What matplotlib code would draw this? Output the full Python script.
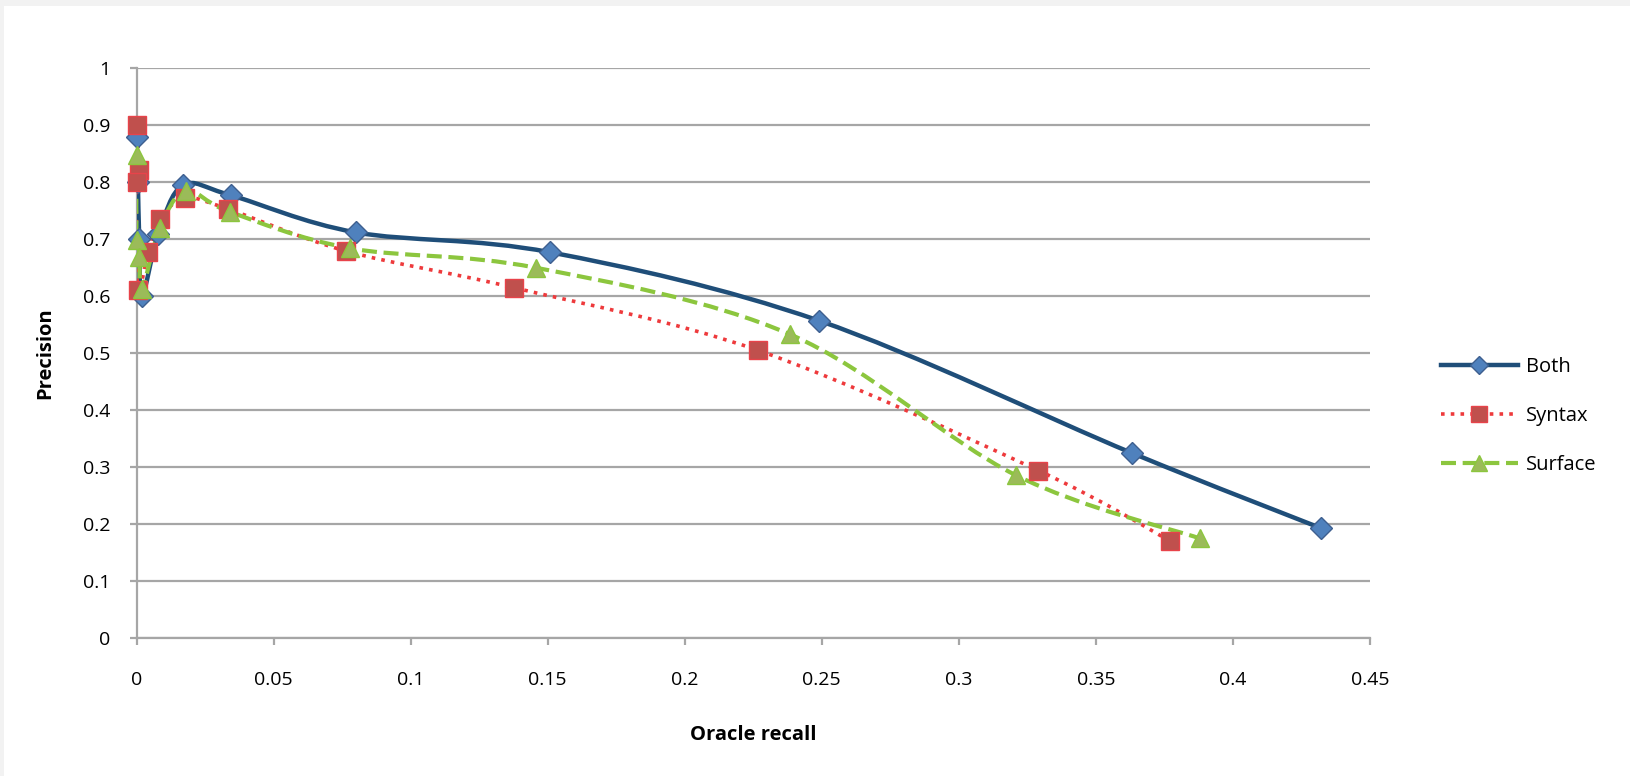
import numpy as np
import matplotlib.pyplot as plt
from matplotlib.path import Path
from matplotlib.patches import PathPatch, Rectangle
from matplotlib.lines import Line2D

plt.rcParams['font.family'] = ['Open Sans', 'DejaVu Sans']

# data (recall, precision)
both_x = [0.0, 0.0005, 0.001, 0.002, 0.008, 0.017, 0.0345, 0.080, 0.151, 0.249, 0.363, 0.432]
both_y = [0.88, 0.80, 0.70, 0.60, 0.71, 0.795, 0.777, 0.712, 0.677, 0.557, 0.325, 0.193]
syn_x = [0.0, 0.001, 0.0, 0.0005, 0.0042, 0.0086, 0.0177, 0.0334, 0.0766, 0.1376, 0.2267, 0.329, 0.3772]
syn_y = [0.90, 0.822, 0.80, 0.61, 0.678, 0.735, 0.772, 0.753, 0.679, 0.615, 0.505, 0.294, 0.170]
sur_x = [0.0, 0.0, 0.001, 0.002, 0.0086, 0.018, 0.034, 0.078, 0.1456, 0.2384, 0.3207, 0.3878]
sur_y = [0.847, 0.698, 0.668, 0.613, 0.72, 0.785, 0.748, 0.684, 0.650, 0.533, 0.286, 0.175]

xticks = [0, 0.05, 0.1, 0.15, 0.2, 0.25, 0.3, 0.35, 0.4, 0.45]
xticklabels = ['0', '0.05', '0.1', '0.15', '0.2', '0.25', '0.3', '0.35', '0.4', '0.45']
yticks = [0, 0.1, 0.2, 0.3, 0.4, 0.5, 0.6, 0.7, 0.8, 0.9, 1.0]
yticklabels = ['0', '0.1', '0.2', '0.3', '0.4', '0.5', '0.6', '0.7', '0.8', '0.9', '1']

#*********************************************************************************************
def smooth_path(x, y):
    # catmull-rom style bezier through the points (like excel "smoothed line")
    p = np.column_stack([x, y]).astype(float)
    n = len(p)
    verts = [p[0]]
    codes = [Path.MOVETO]
    for i in range(n - 1):
        p0 = p[i - 1] if i > 0 else p[i]
        p3 = p[i + 2] if i + 2 < n else p[i + 1]
        c1 = p[i] + (p[i + 1] - p0) / 6.0
        c2 = p[i + 1] - (p3 - p[i]) / 6.0
        verts += [c1, c2, p[i + 1]]
        codes += [Path.CURVE4] * 3
    return Path(verts, codes)

#*********************************************************************************************
fig = plt.figure(figsize=(16.3, 7.76), dpi=100, facecolor='#f2f2f2')
fig.patches.append(Rectangle((4 / 1630, 0), 1, 1 - 6 / 776, transform=fig.transFigure,
                             facecolor='white', edgecolor='none', zorder=-10))
ax = fig.add_axes([136.5 / 1630, 1 - 638 / 776, (1370 - 136.5) / 1630, (638 - 68.3) / 776])
ax.set_facecolor('white')

series = [
    (both_x, both_y, 'Both', '#1f4e79', '-', 'D', '#4f81bd', '#3e5f8f', 3.2, 11),
    (syn_x, syn_y, 'Syntax', '#ee3a3c', (0, (1, 1.7)), 's', '#c0504d', '#e8434a', 2.6, 13),
    (sur_x, sur_y, 'Surface', '#8cc63e', (0, (3.6, 1.6)), '^', '#9bbb59', '#8cc63e', 3.0, 13),
]
handles = []
for x, y, name, lc, ls, mk, mf, me, lw, ms in series:
    patch = PathPatch(smooth_path(x, y), facecolor='none', edgecolor=lc, linewidth=lw,
                      linestyle=ls, zorder=3, capstyle='butt')
    ax.add_patch(patch)
    ax.plot(x, y, linestyle='none', marker=mk, markersize=ms, markerfacecolor=mf,
            markeredgecolor=me, markeredgewidth=1.0, zorder=4, clip_on=False)
    handles.append(Line2D([], [], color=lc, linewidth=lw, linestyle=ls, marker=mk, markersize=ms * 0.85,
                          markerfacecolor=mf, markeredgecolor=me, label=name))

ax.set_xlim(0, 0.45)
ax.set_ylim(0, 1)
ax.set_xticks(xticks)
ax.set_xticklabels(xticklabels)
ax.set_yticks(yticks)
ax.set_yticklabels(yticklabels)
ax.grid(axis='y', color='#a6a6a6', linewidth=1.6, zorder=1)
ax.set_axisbelow(True)
for s in ['top', 'right']:
    ax.spines[s].set_visible(False)
for s in ['left', 'bottom']:
    ax.spines[s].set_color('#a6a6a6')
    ax.spines[s].set_linewidth(1.6)
ax.tick_params(axis='both', direction='out', length=5, width=1.6, color='#a6a6a6',
               labelsize=14, labelcolor='black')
ax.tick_params(axis='x', pad=19)
ax.tick_params(axis='y', pad=14)

ax.set_xlabel('Oracle recall', fontsize=14.5, fontweight='bold', labelpad=26)
ax.set_ylabel('Precision', fontsize=14.5, fontweight='bold', labelpad=20)

fig.legend(handles=handles, loc='center left', bbox_to_anchor=(1423 / 1630, 1 - 416 / 776),
           frameon=False, fontsize=14.5, handlelength=3.8, labelspacing=1.45, handletextpad=0.4)

plt.savefig('out.png', dpi=100, facecolor=fig.get_facecolor())
